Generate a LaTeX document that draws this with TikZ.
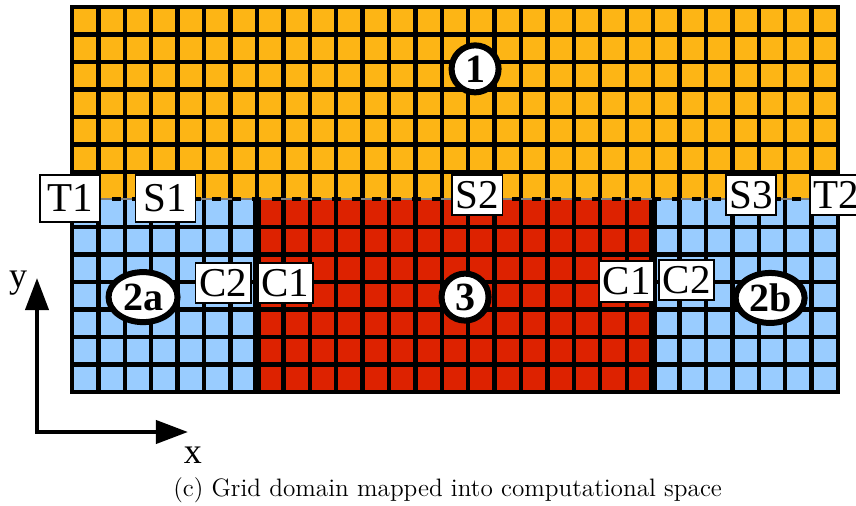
\documentclass[tikz,border=0pt]{standalone}
\usepackage{fontspec}
\setmainfont{Liberation Serif}
\newfontfamily\capfont{Latin Modern Roman}
\usetikzlibrary{arrows.meta,shapes.geometric}
\definecolor{upperzone}{HTML}{FDB515}
\definecolor{corezone}{HTML}{DD2200}
\definecolor{sidezone}{HTML}{99CCFF}

\begin{document}
\begin{tikzpicture}[x=13.207pt, y=13.75pt,
  gridline/.style={line width=2.2pt},
  tag/.style={draw, fill=white, line width=0.9pt, font=\fontsize{20.5}{20.5}\selectfont, inner xsep=1.8pt, inner ysep=3.2pt},
  wide tag/.style={tag, minimum width=30pt, minimum height=23.5pt},
  zone/.style={draw, fill=white, circle, line width=3pt, inner sep=0pt, minimum size=23.5pt, font=\fontsize{20}{20}\selectfont\bfseries},
  zone oval/.style={zone, ellipse, minimum width=34.5pt, minimum height=25pt},
  >={Triangle[length=16pt, width=11.5pt]}]
	\useasboundingbox (-36pt,-57pt) rectangle (392pt,196pt);
	% blocks
	\fill[upperzone] (0,7) rectangle (29,14);
	\fill[sidezone] (0,0) rectangle (7,7);
	\fill[corezone] (7,0) rectangle (22,7);
	\fill[sidezone] (22,0) rectangle (29,7);
	% mesh lines
	\foreach \i in {1,...,28} \draw[gridline] (\i,0) -- (\i,14);
	\foreach \j in {1,2,3,4,5,6,8,9,10,11,12,13} \draw[gridline] (0,\j) -- (29,\j);
	\draw[gridline] (0,0) rectangle (29,14);
	\draw[line width=4pt] (7,0) -- (7,7) (22,0) -- (22,7);
	\draw[gray, line width=1pt] (0,7) -- (29,7);
	\draw[line width=2pt, dash pattern=on 4.5pt off 5.5pt] (0,7) -- (29,7);
	% zone numbers
	\node[zone] (z1) at (15.26,11.75) {1};
	\node[zone] (z3) at (14.88,3.45) {3};
	\node[zone oval] (z2a) at (2.69,3.45) {2a};
	\node[zone oval] (z2b) at (26.43,3.42) {2b};
	% interfaces
	\node[wide tag] (t1) at (-0.08,7.04) {T1};
	\node[wide tag] (s1) at (3.54,7.04) {S1};
	\node[tag] (s2) at (15.34,7.16) {S2};
	\node[tag] (s3) at (25.71,7.16) {S3};
	\node[tag, anchor=west] (t2) at (27.91,7.15) {T2};
	\node[tag] (c2l) at (5.72,3.96) {C2};
	\node[tag] (c1l) at (8.08,3.96) {C1};
	\node[tag] (c1r) at (21.0,4.02) {C1};
	\node[tag] (c2r) at (23.27,4.07) {C2};
	% axes
	\coordinate (origin) at (-1.325,-1.455);
	\coordinate (ytip) at (-1.325,4.145);
	\coordinate (xtip) at (4.39,-1.455);
	\draw[<->, line width=2pt] (ytip) -- (origin) -- (xtip);
	\node[font=\fontsize{18}{18}\selectfont] (ylab) at (-2.04,3.96) {y};
	\node[font=\fontsize{18}{18}\selectfont] (xlab) at (4.58,-2.29) {x};
	\node[font=\capfont\fontsize{12.6}{15}\selectfont] (caption) at (14.22,-3.56) {(c) Grid domain mapped into computational space};
\end{tikzpicture}
\end{document}
